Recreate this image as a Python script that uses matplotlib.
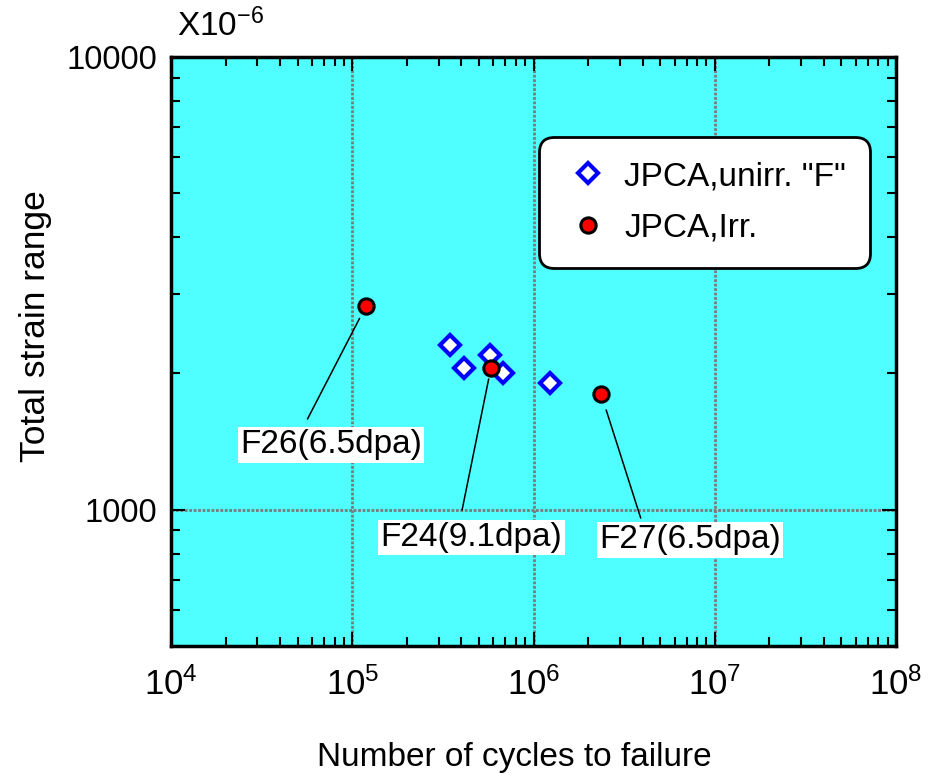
#!/usr/bin/env python3
"""
plot.py
--------------------------------------------------
Total strain range vs. number of cycles to failure for JPCA,
unirradiated ("F") and irradiated specimens. Saves out.png.
"""

import matplotlib
matplotlib.use("Agg")
import matplotlib.pyplot as plt
from matplotlib.ticker import LogLocator, FuncFormatter, LogFormatterMathtext, NullFormatter

# -----------------------------------------------------------------------------
# DATA
# -----------------------------------------------------------------------------
cycles_unirr = [3.44e5, 4.11e5, 5.73e5, 6.76e5, 1.24e6]
strain_unirr = [2306, 2055, 2195, 2000, 1901]

cycles_irr = [1.19e5, 5.82e5, 2.36e6]
strain_irr = [2818, 2055, 1801]
irr_labels = ["F26(6.5dpa)", "F24(9.1dpa)", "F27(6.5dpa)"]

# label offsets (points) and arrow settings for each irradiated point
label_offsets = [(-25, -100), (-14, -122), (64, -105)]
arrow_relpos = [(0.34, 1.0), (0.435, 1.0), (0.24, 1.0)]
arrow_shrink = [(6.5, 10), (7, 8), (3, 12)]

# -----------------------------------------------------------------------------
# CONFIGURATION
# -----------------------------------------------------------------------------
BG = "#4fffff"
FONT = ["Liberation Sans", "DejaVu Sans"]

plt.rcParams["font.family"] = FONT
plt.rcParams["mathtext.fontset"] = "custom"
plt.rcParams["mathtext.rm"] = "Liberation Sans"


def plot_chart(out="out.png"):
    fig = plt.figure(figsize=(9.36, 7.74), dpi=100)
    ax = fig.add_axes([171 / 936, 1 - 646 / 774, 725 / 936, 589 / 774])
    ax.set_facecolor(BG)

    ax.set_xscale("log")
    ax.set_yscale("log")
    ax.set_xlim(1e4, 1e8)
    ax.set_ylim(500, 10000)

    # grid at decades only
    ax.grid(True, which="major", color="#7a7a7a", linestyle=(0, (1, 0.6)), linewidth=2)
    ax.set_axisbelow(True)

    ax.plot(cycles_unirr, strain_unirr, linestyle="none", marker="D", markersize=10,
            markerfacecolor="white", markeredgecolor="#0000ff", markeredgewidth=3,
            label='JPCA,unirr. "F"', zorder=3)
    ax.plot(cycles_irr, strain_irr, linestyle="none", marker="o", markersize=11,
            markerfacecolor="#ff0000", markeredgecolor="black", markeredgewidth=2.2,
            label="JPCA,Irr.", zorder=4)

    for x, y, txt, off, rp, sh in zip(cycles_irr, strain_irr, irr_labels,
                                      label_offsets, arrow_relpos, arrow_shrink):
        ax.annotate(txt, xy=(x, y), xytext=off, textcoords="offset points",
                    ha="center", va="center", fontsize=24, zorder=5,
                    bbox=dict(boxstyle="square,pad=0.07", facecolor="white", edgecolor="none"),
                    arrowprops=dict(arrowstyle="-", color="black", linewidth=1.1,
                                    relpos=rp, shrinkA=sh[0], shrinkB=sh[1]))

    # ticks
    ax.xaxis.set_major_locator(LogLocator(base=10, numticks=10))
    ax.xaxis.set_minor_locator(LogLocator(base=10, subs=range(2, 10), numticks=20))
    ax.xaxis.set_major_formatter(LogFormatterMathtext())
    ax.xaxis.set_minor_formatter(NullFormatter())
    ax.yaxis.set_major_locator(LogLocator(base=10, numticks=10))
    ax.yaxis.set_minor_locator(LogLocator(base=10, subs=range(2, 10), numticks=20))
    ax.yaxis.set_major_formatter(FuncFormatter(lambda v, p: f"{v:.0f}"))
    ax.yaxis.set_minor_formatter(NullFormatter())

    ax.tick_params(which="both", direction="in", top=True, right=True, width=1.5)
    ax.tick_params(which="major", length=10)
    ax.tick_params(which="minor", length=6.5)
    ax.tick_params(axis="x", which="major", labelsize=25, pad=15)
    ax.tick_params(axis="y", which="major", labelsize=23.5, pad=10)

    for s in ax.spines.values():
        s.set_linewidth(2.5)
        s.set_color("black")

    ax.set_xlabel("Number of cycles to failure", fontsize=24)
    ax.xaxis.set_label_coords(0.474, -0.163)
    ax.set_ylabel("Total strain range", fontsize=25.5)
    ax.yaxis.set_label_coords(-0.164, 0.543)

    fig.text(177 / 936, 1 - 36 / 774, r"$\mathdefault{X10^{-6}}$", fontsize=24,
             ha="left", va="baseline")

    leg = ax.legend(loc="upper right", bbox_to_anchor=(0.964, 0.864), borderaxespad=0,
                    fontsize=24, frameon=True, fancybox=True, framealpha=1,
                    borderpad=0.72, labelspacing=0.62, handlelength=1.5,
                    handletextpad=0.33)
    frame = leg.get_frame()
    frame.set_edgecolor("black")
    frame.set_linewidth(2)
    frame.set_boxstyle("round", pad=0, rounding_size=0.45)

    fig.savefig(out, dpi=100)


# -----------------------------------------------------------------------------
if __name__ == "__main__":
    plot_chart()
